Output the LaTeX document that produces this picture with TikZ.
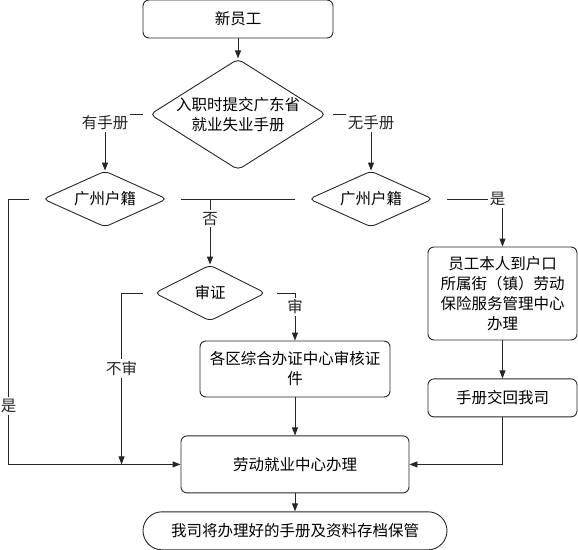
\documentclass[tikz,border=0pt]{standalone}
\usepackage{fontspec}
\setmainfont{Noto Sans CJK SC}
\usetikzlibrary{arrows.meta, positioning, shapes.geometric}
\tikzset{
  pbox/.style={draw=black!85, line width=0.9pt, rounded corners=6pt, align=center, inner sep=3pt, minimum height=38pt},
  pterm/.style={pbox, rounded corners=19pt},
  pdecide/.style={diamond, draw=black!85, line width=0.9pt, rounded corners=5pt, align=center, inner xsep=-2pt, inner ysep=-2pt},
  pflow/.style={-{Triangle[length=8pt, width=6pt]}, line width=0.9pt, black!85},
  pline/.style={line width=0.9pt, black!85},
  plbl/.style={fill=white, inner sep=2pt},
}

\begin{document}
\begin{tikzpicture}[x=1pt, y=1pt, node distance=20pt, font=\fontsize{15.5}{20}\selectfont]
    \useasboundingbox (0,0) rectangle (578,-549);
    \node[pbox, minimum width=190pt] (start) at (238,-19) {新员工};
    \node[pdecide, below=20pt of start, minimum width=176pt, minimum height=111pt, shape aspect=1.6] (book) {入职时提交广东省\\就业失业手册};
    \node[pdecide, minimum width=124pt, minimum height=56pt, shape aspect=2.2] (gzL) at (105,-199) {广州户籍};
    \node[pdecide, minimum width=124pt, minimum height=56pt, shape aspect=2.2] (gzR) at (371,-199) {广州户籍};
    \node[pdecide, minimum width=111pt, minimum height=56pt, shape aspect=2] (shen) at (210,-293) {审证};
    \node[pbox, minimum width=190pt, minimum height=56pt] (check) at (295,-369) {各区综合办证中心审核证\\件};
    \node[pbox, below=38pt of check, minimum width=228pt, minimum height=57pt] (labor) {劳动就业中心办理};
    \node[pterm, below=18pt of labor, minimum width=304pt] (archive) {我司将办理好的手册及资料存档保管};
    \node[pbox, minimum width=149pt, minimum height=93pt] (local) at (502.5,-293.5) {员工本人到户口\\所属街（镇）劳动\\保险服务管理中心\\办理};
    \node[pbox, below=38pt of local, minimum width=149pt] (back) {手册交回我司};
    \coordinate[left=34pt of gzL.west] (railL);

    \draw[pflow] (start) -- (book);
    \draw[pflow] ([xshift=-7pt]book.west) -| node[plbl, pos=.5, yshift=-8pt]{有手册} (gzL.north);
    \draw[pflow] ([xshift=7pt]book.east) -| node[plbl, pos=.5, yshift=-8pt]{无手册} (gzR.north);
    % Guangzhou residents
    \draw[pflow] ([xshift=-14pt]gzL.west) -- (railL) |- node[plbl, pos=.39]{是} (labor.west);
    \draw[pline] ([xshift=14pt]gzL.east) -- ([xshift=-14pt]gzR.west);
    \draw[pflow] (gzL.east -| shen.north) -- node[plbl, pos=.3]{否} (shen.north);
    \draw[pflow] ([xshift=14pt]gzR.east) -| node[plbl, pos=.5, xshift=-5pt]{是} (local.north);
    % certificate check
    \draw[pflow] ([xshift=-11pt]shen.west) -| node[plbl, pos=.72]{不审} ([xshift=-59pt]labor.west);
    \draw[pflow] ([xshift=11pt]shen.east) -| node[plbl, pos=.645]{审} (check.north);
    \draw[pflow] (check) -- (labor);
    \draw[pflow] (local) -- (back);
    \draw[pflow] (back.south) |- (labor.east);
    \draw[pflow] (labor) -- (archive);
\end{tikzpicture}
\end{document}
